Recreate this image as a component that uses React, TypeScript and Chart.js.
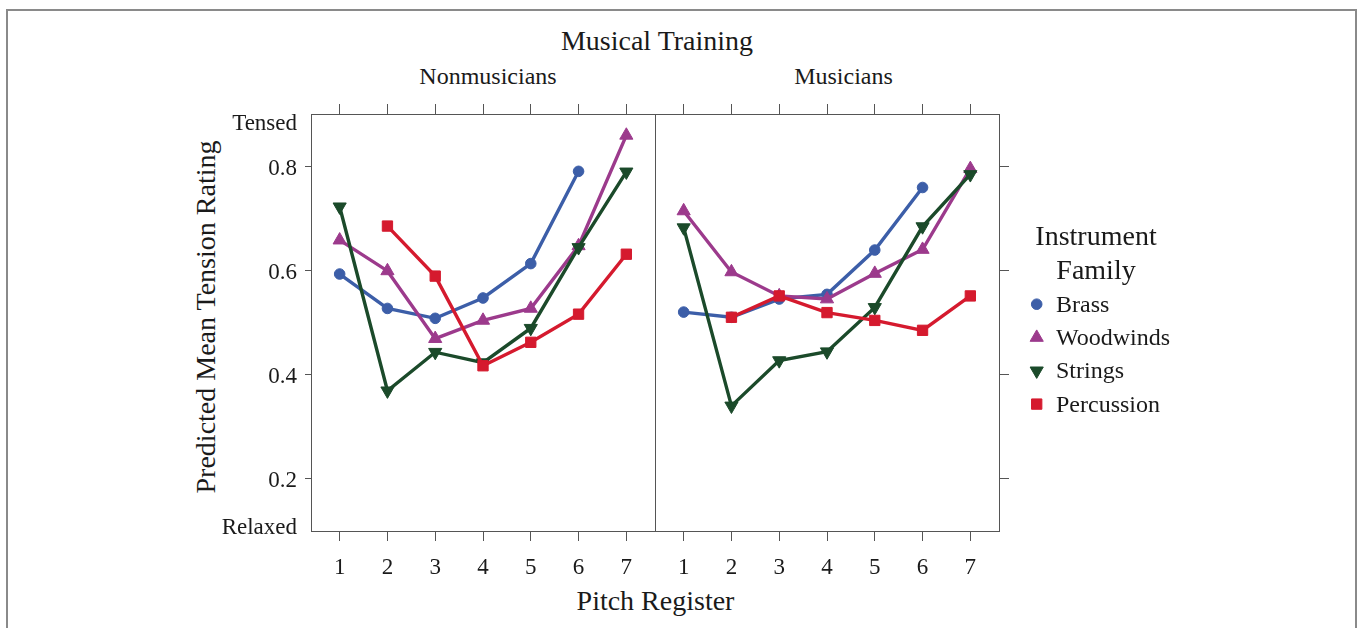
import React, { useEffect, useRef } from 'react';
import { Chart, registerables } from 'chart.js';

Chart.register(...registerables);

// ---------- data ----------
const pitchRegisters = [1, 2, 3, 4, 5, 6, 7];
const xTickLabels = ['1', '2', '3', '4', '5', '6', '7'];
const yTickValues = [0.11, 0.2, 0.4, 0.6, 0.8, 0.886];
const yTickLabels = ['Relaxed', '0.2', '0.4', '0.6', '0.8', 'Tensed'];
const yRightTickValues = [0.2, 0.4, 0.6, 0.8];

const seriesNames = ['Brass', 'Woodwinds', 'Strings', 'Percussion'];

const nonBrass = [0.593, 0.527, 0.508, 0.547, 0.613, 0.79, null];
const nonWoodwinds = [0.658, 0.599, 0.469, 0.504, 0.527, 0.647, 0.859];
const nonStrings = [0.722, 0.369, 0.443, 0.423, 0.489, 0.644, 0.789];
const nonPercussion = [null, 0.685, 0.589, 0.417, 0.462, 0.516, 0.631];

const musBrass = [0.52, 0.51, 0.545, 0.554, 0.639, 0.759, null];
const musWoodwinds = [0.714, 0.597, 0.551, 0.545, 0.594, 0.64, 0.795];
const musStrings = [0.682, 0.34, 0.427, 0.444, 0.529, 0.684, 0.784];
const musPercussion = [null, 0.51, 0.551, 0.519, 0.504, 0.485, 0.551];

// ---------- styles ----------
const FONT = "'Liberation Serif', 'Times New Roman', serif";
const TEXT = '#1a1a1a';
const AXIS = '#555555';

const seriesStyles = [
  { color: '#3C5EA8', pointStyle: 'circle', radius: 5.3, rotation: 0 },
  { color: '#9C3A8C', pointStyle: 'triangle', radius: 7.6, rotation: 0 },
  { color: '#1B4A2A', pointStyle: 'triangle', radius: 7.6, rotation: 180 },
  { color: '#D51A2E', pointStyle: 'rect', radius: 7.3, rotation: 0 },
];

function makeDatasets(series: (number | null)[][]) {
  return series.map((vals, i) => {
    const st = seriesStyles[i];
    return {
      label: seriesNames[i],
      data: pitchRegisters.map((p, j) => ({ x: p, y: vals[j] })),
      borderColor: st.color,
      backgroundColor: st.color,
      borderWidth: 3.4,
      pointStyle: st.pointStyle,
      pointRadius: st.radius,
      pointRotation: st.rotation,
      pointBorderWidth: 1,
      pointBackgroundColor: st.color,
      pointBorderColor: st.color,
      tension: 0,
      order: 4 - i,
    };
  });
}

const framePlugin = {
  id: 'panelFrame',
  beforeDatasetsDraw(chart: any) {
    const { ctx, chartArea } = chart;
    const l = Math.round(chartArea.left) + 0.5;
    const t = Math.round(chartArea.top) + 0.5;
    const r = Math.round(chartArea.right) + 0.5;
    const b = Math.round(chartArea.bottom) + 0.5;
    ctx.save();
    ctx.strokeStyle = AXIS;
    ctx.lineWidth = 1;
    ctx.strokeRect(l, t, r - l, b - t);
    ctx.restore();
  },
};

function drawMarker(ctx: CanvasRenderingContext2D, style: string, rotation: number, x: number, y: number, r: number) {
  ctx.beginPath();
  if (style === 'circle') {
    ctx.arc(x, y, r, 0, Math.PI * 2);
  } else if (style === 'triangle') {
    let rad = (rotation * Math.PI) / 180;
    ctx.moveTo(x + Math.sin(rad) * r, y - Math.cos(rad) * r);
    rad += (2 * Math.PI) / 3;
    ctx.lineTo(x + Math.sin(rad) * r, y - Math.cos(rad) * r);
    rad += (2 * Math.PI) / 3;
    ctx.lineTo(x + Math.sin(rad) * r, y - Math.cos(rad) * r);
    ctx.closePath();
  } else {
    const s = r * Math.SQRT1_2;
    ctx.rect(x - s, y - s, 2 * s, 2 * s);
  }
  ctx.fill();
  ctx.stroke();
}

const legendPlugin = {
  id: 'familyLegend',
  afterDraw(chart: any) {
    const { ctx, chartArea } = chart;
    const ox = chartArea.right;
    const oy = chartArea.top;
    ctx.save();
    ctx.fillStyle = TEXT;
    ctx.textBaseline = 'alphabetic';
    ctx.font = `28px ${FONT}`;
    ctx.textAlign = 'center';
    ctx.fillText('Instrument', ox + 97, oy + 131);
    ctx.fillText('Family', ox + 97, oy + 165);
    ctx.font = `24px ${FONT}`;
    ctx.textAlign = 'left';
    chart.data.datasets.forEach((ds: any, i: number) => {
      const st = seriesStyles[i];
      const by = oy + 197.7 + i * 33.3;
      ctx.fillStyle = TEXT;
      ctx.fillText(ds.label, ox + 57, by);
      ctx.fillStyle = st.color;
      ctx.strokeStyle = st.color;
      ctx.lineWidth = 1;
      drawMarker(ctx, st.pointStyle, st.rotation, ox + 37.7, by - 7.5, st.radius);
    });
    ctx.restore();
  },
};

const SIDE_PAD = 30;

function makeOptions(side: 'left' | 'right') {
  const xBase = {
    type: 'linear',
    min: 0.4,
    max: 7.6,
    afterBuildTicks: (s: any) => {
      s.ticks = pitchRegisters.map((v) => ({ value: v }));
    },
    grid: {
      display: true,
      drawOnChartArea: false,
      drawTicks: true,
      tickLength: 10,
      tickColor: AXIS,
      tickWidth: 1,
    },
    border: { display: false },
  };
  const yScale: any =
    side === 'left'
      ? {
          type: 'linear',
          position: 'left',
          min: 0.1,
          max: 0.9,
          afterBuildTicks: (s: any) => {
            s.ticks = yTickValues.map((v) => ({ value: v }));
          },
          afterFit: (s: any) => {
            s.width = 161;
          },
          ticks: {
            autoSkip: false,
            padding: 8,
            labelOffset: 2.5,
            color: TEXT,
            font: { family: FONT, size: 23 },
            callback: (v: number) => yTickLabels[yTickValues.indexOf(v)],
          },
          grid: {
            display: true,
            drawOnChartArea: false,
            drawTicks: true,
            tickLength: 6,
            tickWidth: 1,
            tickColor: (c: any) =>
              c.tick && (c.tick.value === yTickValues[0] || c.tick.value === yTickValues[yTickValues.length - 1])
                ? 'rgba(0,0,0,0)'
                : AXIS,
          },
          border: { display: false },
        }
      : {
          type: 'linear',
          position: 'right',
          min: 0.1,
          max: 0.9,
          afterBuildTicks: (s: any) => {
            s.ticks = yRightTickValues.map((v) => ({ value: v }));
          },
          afterFit: (s: any) => {
            s.width = 211;
          },
          ticks: { display: false, autoSkip: false },
          grid: {
            display: true,
            drawOnChartArea: false,
            drawTicks: true,
            tickLength: 10,
            tickWidth: 1,
            tickColor: AXIS,
          },
          border: { display: false },
        };
  return {
    animation: false,
    responsive: false,
    maintainAspectRatio: false,
    events: [],
    layout: {
      padding:
        side === 'left'
          ? { left: 0, right: SIDE_PAD, top: 0, bottom: 0 }
          : { left: SIDE_PAD, right: 0, top: 0, bottom: 0 },
    },
    plugins: {
      legend: { display: false },
      tooltip: { enabled: false },
      title: { display: false },
    },
    scales: {
      x: {
        ...xBase,
        position: 'bottom',
        afterFit: (s: any) => {
          s.height = 59;
        },
        ticks: {
          autoSkip: false,
          maxRotation: 0,
          padding: 13,
          color: TEXT,
          font: { family: FONT, size: 23 },
          callback: (v: number) => xTickLabels[pitchRegisters.indexOf(v)],
        },
      },
      xTop: {
        ...xBase,
        position: 'top',
        afterFit: (s: any) => {
          s.height = 54;
        },
        ticks: { display: false, autoSkip: false },
      },
      y: yScale,
    },
  };
}

const textStyle = (size: number): React.CSSProperties => ({
  position: 'absolute',
  transform: 'translate(-50%, -50%)',
  whiteSpace: 'nowrap',
  fontFamily: FONT,
  fontSize: size,
  lineHeight: 1.15,
  color: TEXT,
});

export default function App() {
  const leftRef = useRef<HTMLCanvasElement>(null);
  const rightRef = useRef<HTMLCanvasElement>(null);

  useEffect(() => {
    const left = new Chart(leftRef.current as HTMLCanvasElement, {
      type: 'line',
      data: { datasets: makeDatasets([nonBrass, nonWoodwinds, nonStrings, nonPercussion]) as any },
      options: makeOptions('left') as any,
      plugins: [framePlugin],
    });
    const right = new Chart(rightRef.current as HTMLCanvasElement, {
      type: 'line',
      data: { datasets: makeDatasets([musBrass, musWoodwinds, musStrings, musPercussion]) as any },
      options: makeOptions('right') as any,
      plugins: [framePlugin, legendPlugin],
    });
    return () => {
      left.destroy();
      right.destroy();
    };
  }, []);

  // left panel plot area: page x 311..655; right panel: 655..999; both y 114..531
  const leftCanvasW = 161 + 344 + SIDE_PAD;
  const rightCanvasLeft = 655 - SIDE_PAD;
  const rightCanvasW = SIDE_PAD + 344 + 211;

  return (
    <div
      style={{
        position: 'absolute',
        left: 0,
        top: 0,
        width: 1360,
        height: 628,
        overflow: 'hidden',
        background: '#ffffff',
      }}
    >
      <div
        style={{
          position: 'absolute',
          left: 6,
          top: 9,
          width: 1347,
          height: 700,
          border: '2px solid #8a8a8a',
        }}
      />
      <div style={{ ...textStyle(28), left: 657, top: 40.5 }}>Musical Training</div>
      <div style={{ ...textStyle(24), left: 488, top: 77 }}>Nonmusicians</div>
      <div style={{ ...textStyle(24), left: 843.5, top: 77 }}>Musicians</div>
      <div style={{ ...textStyle(28), left: 655.5, top: 601 }}>Pitch Register</div>
      <div style={{ ...textStyle(28), left: 205.5, top: 317, transform: 'translate(-50%, -50%) rotate(-90deg)' }}>
        Predicted Mean Tension Rating
      </div>
      <canvas
        ref={leftRef}
        width={leftCanvasW}
        height={530}
        style={{ position: 'absolute', left: 150, top: 60, width: leftCanvasW, height: 530 }}
      />
      <canvas
        ref={rightRef}
        width={rightCanvasW}
        height={530}
        style={{ position: 'absolute', left: rightCanvasLeft, top: 60, width: rightCanvasW, height: 530 }}
      />
    </div>
  );
}
